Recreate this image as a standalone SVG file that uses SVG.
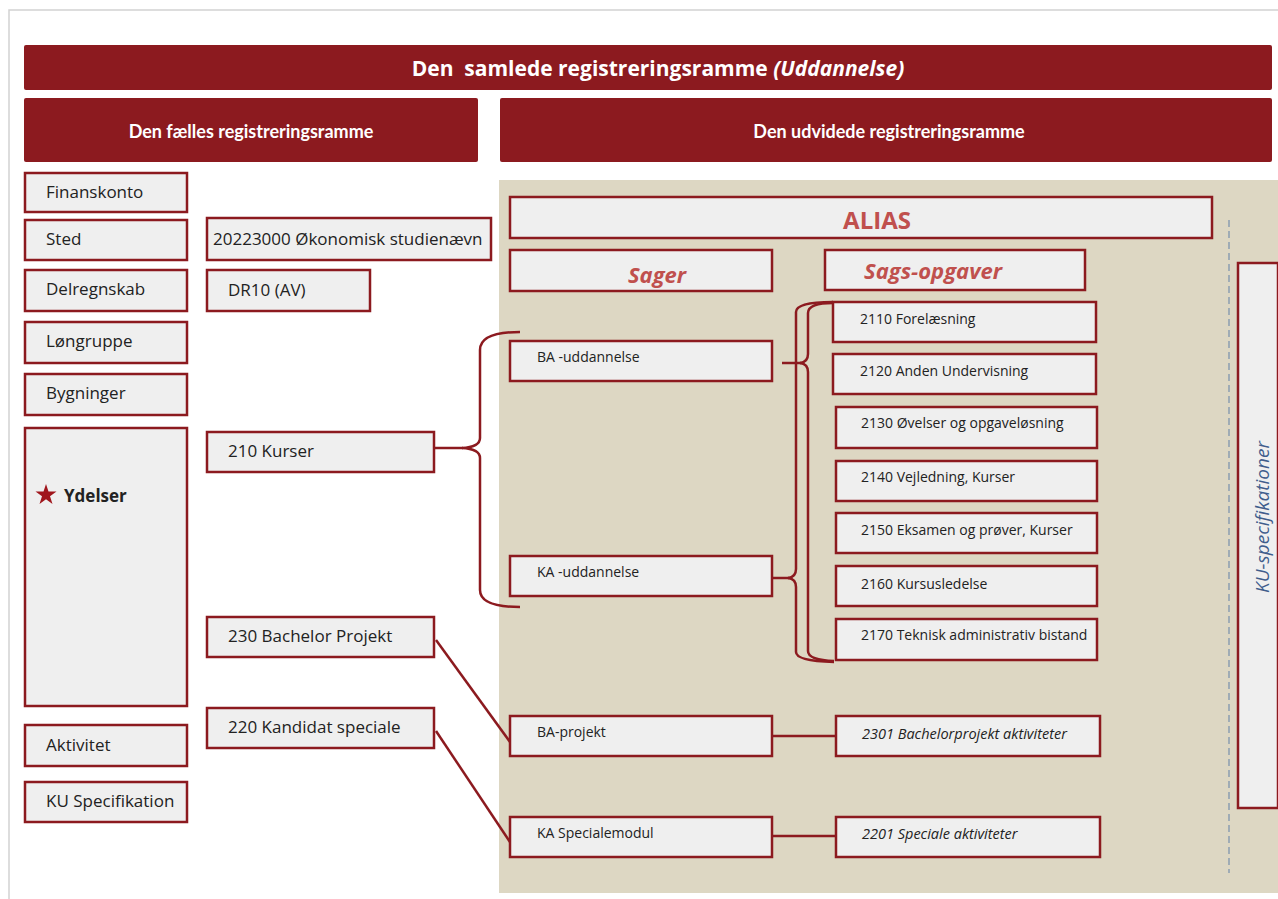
<svg xmlns="http://www.w3.org/2000/svg" width="1278" height="899" viewBox="0 0 1278 899">
<style>
.banner{fill:#8c1a1f;}
.hdr{fill:#ffffff;font-family:"Open Sans","Liberation Sans",sans-serif;font-weight:bold;}
.sub{fill:#ffffff;font-family:Lato,"Liberation Sans",sans-serif;font-weight:bold;font-size:18px;}
.box{fill:#efefef;stroke:#8c1a1f;stroke-width:2.5;}
.t16{fill:#222;font-family:"Open Sans","Liberation Sans",sans-serif;font-size:17px;}
.t12{fill:#222;font-family:"Open Sans","Liberation Sans",sans-serif;font-size:14px;}
.t12i{fill:#222;font-family:"Open Sans","Liberation Sans",sans-serif;font-size:14.5px;font-style:italic;}
.red{fill:#c0504d;font-family:"Open Sans","Liberation Sans",sans-serif;font-weight:bold;}
.conn{fill:none;stroke:#8c1a1f;stroke-width:2.5;}
</style>
<rect x="0" y="0" width="1278" height="899" fill="#ffffff"/>
<path d="M9,899 V10 H1278" fill="none" stroke="#d2d2d2" stroke-width="1.5"/>

<g id="banner-top">
<rect class="banner" x="24" y="45" width="1248" height="45" rx="2"/>
<text class="hdr" x="658" y="76" font-size="21" text-anchor="middle">Den&#160; samlede registreringsramme <tspan font-style="italic">(Uddannelse)</tspan></text>
</g>
<g id="header-faelles">
<rect class="banner" x="24" y="98" width="454" height="64" rx="2"/>
<text class="sub" x="251" y="138" text-anchor="middle">Den fælles registreringsramme</text>
</g>
<g id="header-udvidede">
<rect class="banner" x="500" y="98" width="772" height="64" rx="2"/>
<text class="sub" x="889" y="138" text-anchor="middle">Den udvidede registreringsramme</text>
</g>

<g id="panel">
<rect x="499" y="180" width="779" height="713" fill="#ddd7c3"/>
<line x1="1229" y1="220" x2="1229" y2="873" stroke="#7f95ae" stroke-width="1.3" stroke-dasharray="7,4"/>
</g>

<g id="n-finanskonto"><rect class="box" x="25" y="173" width="162" height="39"/><text class="t16" x="46" y="198">Finanskonto</text></g>
<g id="n-sted"><rect class="box" x="25" y="220" width="162" height="40"/><text class="t16" x="46" y="245">Sted</text></g>
<g id="n-delregnskab"><rect class="box" x="25" y="270" width="162" height="41"/><text class="t16" x="46" y="295">Delregnskab</text></g>
<g id="n-loengruppe"><rect class="box" x="25" y="322" width="162" height="41"/><text class="t16" x="46" y="347">Løngruppe</text></g>
<g id="n-bygninger"><rect class="box" x="25" y="374" width="162" height="41"/><text class="t16" x="46" y="399">Bygninger</text></g>
<g id="n-ydelser"><rect class="box" x="25" y="428" width="162" height="278"/>
<polygon points="46,484 48.5,491.6 56.5,491.6 50,496.3 52.5,504 46,499.3 39.5,504 42,496.3 35.5,491.6 43.5,491.6" fill="#a0161c"/>
<text x="64" y="502" font-family="'Open Sans','Liberation Sans',sans-serif" font-weight="bold" font-size="17" fill="#222">Ydelser</text></g>
<g id="n-aktivitet"><rect class="box" x="25" y="725" width="162" height="41"/><text class="t16" x="46" y="751">Aktivitet</text></g>
<g id="n-kuspec"><rect class="box" x="25" y="782" width="162" height="40"/><text class="t16" x="46" y="807">KU Specifikation</text></g>

<g id="n-sted-val"><rect class="box" x="207" y="218" width="284" height="42"/><text class="t16" x="213" y="245">20223000 Økonomisk studienævn</text></g>
<g id="n-dr10"><rect class="box" x="207" y="270" width="163" height="41"/><text class="t16" x="228" y="296">DR10 (AV)</text></g>
<g id="n-210"><rect class="box" x="207" y="432" width="227" height="40"/><text class="t16" x="228" y="457">210 Kurser</text></g>
<g id="n-230"><rect class="box" x="207" y="617" width="227" height="40"/><text class="t16" x="228" y="642">230 Bachelor Projekt</text></g>
<g id="n-220"><rect class="box" x="207" y="708" width="227" height="40"/><text class="t16" x="228" y="733">220 Kandidat speciale</text></g>

<g id="n-alias"><rect class="box" x="510" y="197" width="702" height="41"/><text class="red" x="877" y="229" font-size="24" text-anchor="middle">ALIAS</text></g>
<g id="n-sager"><rect class="box" x="510" y="250" width="262" height="41"/><text class="red" x="657" y="283" font-size="22" font-style="italic" text-anchor="middle">Sager</text></g>
<g id="n-sagsopg"><rect class="box" x="825" y="250" width="260" height="40"/><text class="red" x="933" y="279" font-size="22" font-style="italic" text-anchor="middle">Sags-opgaver</text></g>
<g id="n-kuspecs"><rect class="box" x="1238" y="263" width="40" height="545"/><text x="1269" y="517" transform="rotate(-90 1269 517)" text-anchor="middle" font-family="'Open Sans','Liberation Sans',sans-serif" font-style="italic" font-size="19" fill="#3f5d8c">KU-specifikationer</text></g>

<g id="n-ba"><rect class="box" x="510" y="341" width="262" height="40"/><text class="t12" x="537" y="362">BA -uddannelse</text></g>
<g id="n-ka"><rect class="box" x="510" y="556" width="262" height="40"/><text class="t12" x="537" y="577">KA -uddannelse</text></g>
<g id="n-baprojekt"><rect class="box" x="510" y="716" width="262" height="40"/><text class="t12" x="537" y="737">BA-projekt</text></g>
<g id="n-kaspec"><rect class="box" x="510" y="817" width="262" height="40"/><text class="t12" x="537" y="838">KA Specialemodul</text></g>

<g id="n-2110"><rect class="box" x="833" y="302" width="263" height="40"/><text class="t12" x="860" y="324">2110 Forelæsning</text></g>
<g id="n-2120"><rect class="box" x="833" y="354" width="263" height="40"/><text class="t12" x="860" y="376">2120 Anden Undervisning</text></g>
<g id="n-2130"><rect class="box" x="836" y="407" width="261" height="41"/><text class="t12" x="861" y="428">2130 Øvelser og opgaveløsning</text></g>
<g id="n-2140"><rect class="box" x="836" y="461" width="261" height="40"/><text class="t12" x="861" y="482">2140 Vejledning, Kurser</text></g>
<g id="n-2150"><rect class="box" x="836" y="513" width="261" height="40"/><text class="t12" x="861" y="535">2150 Eksamen og prøver, Kurser</text></g>
<g id="n-2160"><rect class="box" x="836" y="566" width="261" height="40"/><text class="t12" x="861" y="589">2160 Kursusledelse</text></g>
<g id="n-2170"><rect class="box" x="836" y="619" width="261" height="41"/><text class="t12" x="861" y="640">2170 Teknisk administrativ bistand</text></g>
<g id="n-2301"><rect class="box" x="836" y="716" width="264" height="40"/><text class="t12i" x="862" y="739">2301 Bachelorprojekt aktiviteter</text></g>
<g id="n-2201"><rect class="box" x="836" y="817" width="264" height="40"/><text class="t12i" x="862" y="839">2201 Speciale aktiviteter</text></g>

<g id="connectors">
<path class="conn" d="M520,332 Q480,332 480,350 L480,438 Q480,447 462,448 Q480,449 480,458 L480,590 Q480,607 520,607"/>
<line class="conn" x1="435" y1="448" x2="463" y2="448"/>
<path class="conn" d="M833,303 Q808,303 808,313 L808,354 Q808,362 800,363 Q808,364 808,372 L808,651 Q808,660 834,661"/>
<line class="conn" x1="782" y1="363" x2="801" y2="363"/>
<path class="conn" d="M833,302 Q796,302 796,312 L796,569 Q796,577 788,578 Q796,579 796,587 L796,652 Q796,661 834,662"/>
<line class="conn" x1="772" y1="578" x2="789" y2="578"/>
<line class="conn" x1="436" y1="640" x2="510" y2="742"/>
<line class="conn" x1="436" y1="731" x2="510" y2="842"/>
<line class="conn" x1="772" y1="736" x2="836" y2="736"/>
<line class="conn" x1="772" y1="836" x2="836" y2="836"/>
</g>
</svg>
